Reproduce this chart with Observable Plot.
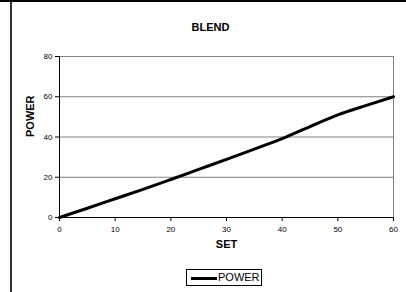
<!DOCTYPE html>
<html><head><meta charset="utf-8">
<script src="https://cdn.jsdelivr.net/npm/d3@7"></script>
<script src="https://cdn.jsdelivr.net/npm/@observablehq/plot@0.6"></script>
<style>
body{margin:0;background:#fff;font-family:"Liberation Sans",Arial,sans-serif;}
#wrap{position:relative;width:406px;height:292px;overflow:hidden;}
#topline{position:absolute;left:0;top:0;width:406px;height:2px;background:#000;}
#leftline{position:absolute;left:10px;top:2px;width:2px;height:290px;background:#333;}
#legend{position:absolute;left:186px;top:269px;width:76px;height:17px;border:1px solid #000;box-sizing:border-box;font-size:11px;}
#legend .ln{position:absolute;left:4px;top:7px;width:26px;height:3px;background:#000;}
#legend .tx{position:absolute;left:31px;top:1px;}
</style></head>
<body><div id="wrap"><div id="chart"></div><div id="topline"></div><div id="leftline"></div>
<div id="legend"><div class="ln"></div><div class="tx">POWER</div></div></div>
<script>
const setValues = [0, 5, 10, 15, 20, 25, 30, 35, 40, 45, 50, 55, 60];
const powerValues = [0, 4.6, 9.3, 14, 18.9, 23.9, 28.9, 34, 39.2, 45.2, 51, 55.6, 60];
const xTicks = [0, 10, 20, 30, 40, 50, 60];
const yTicks = [0, 20, 40, 60, 80];
const title = "BLEND";
const xLabel = "SET";
const yLabel = "POWER";

const data = setValues.map((s, i) => ({set: s, power: powerValues[i]}));

const chart = Plot.plot({
  width: 406, height: 292,
  marginLeft: 59, marginRight: 13, marginTop: 56, marginBottom: 75,
  style: {fontFamily: '"Liberation Sans", Arial, sans-serif', fontSize: "8px", background: "transparent", color: "#000"},
  x: {domain: [0, 60], ticks: xTicks, label: null, tickSize: 4, tickPadding: 5},
  y: {domain: [0, 80], ticks: yTicks, label: null, tickSize: 4, tickPadding: 3},
  marks: [
    Plot.ruleY(yTicks.filter(d => d > 0), {stroke: "#808080", strokeWidth: 1}),
    Plot.ruleX([60], {stroke: "#808080", strokeWidth: 1}),
    Plot.axisX({ticks: xTicks, tickSize: 4, tickPadding: 5, label: null, fontSize: 8, stroke: "#000"}),
    Plot.axisY({ticks: yTicks, tickSize: 4, tickPadding: 3, label: null, fontSize: 8, stroke: "#000"}),
    Plot.ruleY([0], {stroke: "#000", strokeWidth: 1}),
    Plot.ruleX([0], {stroke: "#000", strokeWidth: 1}),
    Plot.line(data, {x: "set", y: "power", stroke: "#000", strokeWidth: 3, curve: "monotone-x"}),
    Plot.text([title], {frameAnchor: "top", dy: -33, dx: -16, fontWeight: "bold", fontSize: 11}),
    Plot.text([xLabel], {frameAnchor: "bottom", dy: 30, fontWeight: "bold", fontSize: 11}),
    Plot.text([yLabel], {frameAnchor: "left", dx: -29, rotate: -90, fontWeight: "bold", fontSize: 11})
  ]
});
document.getElementById("chart").appendChild(chart);
</script></body></html>
